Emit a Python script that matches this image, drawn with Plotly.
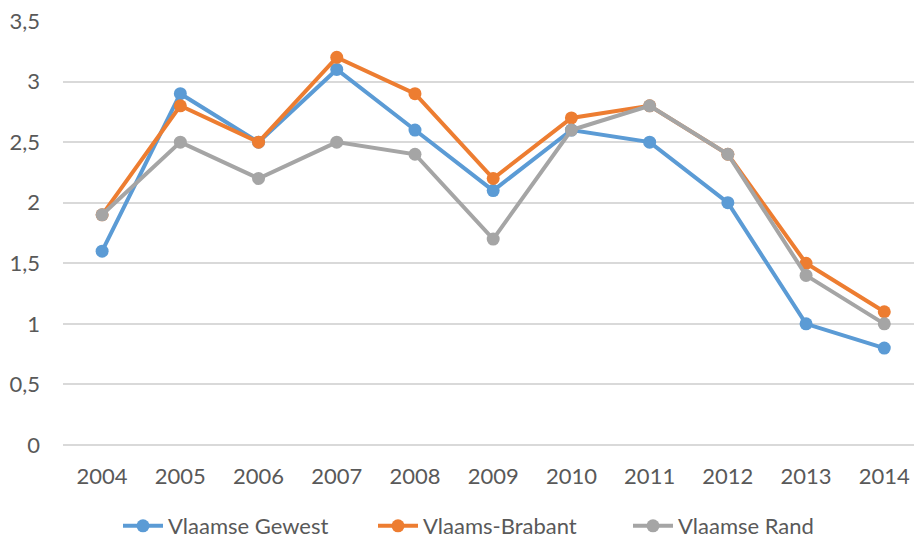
import plotly.graph_objects as go

years = ["2004", "2005", "2006", "2007", "2008", "2009", "2010", "2011", "2012", "2013", "2014"]
vlaamse_gewest = [1.6, 2.9, 2.5, 3.1, 2.6, 2.1, 2.6, 2.5, 2.0, 1.0, 0.8]
vlaams_brabant = [1.9, 2.8, 2.5, 3.2, 2.9, 2.2, 2.7, 2.8, 2.4, 1.5, 1.1]
vlaamse_rand = [1.9, 2.5, 2.2, 2.5, 2.4, 1.7, 2.6, 2.8, 2.4, 1.4, 1.0]
y_ticks = [0, 0.5, 1, 1.5, 2, 2.5, 3, 3.5]

series = [
    ("Vlaamse Gewest", vlaamse_gewest, "#5B9BD5"),
    ("Vlaams-Brabant", vlaams_brabant, "#ED7D31"),
    ("Vlaamse Rand", vlaamse_rand, "#A5A5A5"),
]

fig = go.Figure()
for name, vals, col in series:
    fig.add_trace(go.Scatter(
        x=years, y=vals, name=name, mode="lines+markers",
        line=dict(color=col, width=4),
        marker=dict(color=col, size=13),
    ))

font_col = "#595959"
fig.update_layout(
    width=914, height=540,
    margin=dict(l=63, r=0, t=21, b=95, autoexpand=False),
    paper_bgcolor="white", plot_bgcolor="white",
    separators=",.",
    font=dict(family="Lato, Open Sans, sans-serif", size=22, color=font_col),
    showlegend=True,
    legend=dict(orientation="h", xref="container", yref="container",
                x=(126 - 8) / 914, xanchor="left", y=14 / 540, yanchor="middle",
                font=dict(size=22, color=font_col), itemwidth=40,
                entrywidth=200, entrywidthmode="pixels",
                traceorder="normal"),
    xaxis=dict(type="category", range=[-0.5, 10.38], showgrid=False,
               showline=False, zeroline=False, ticks="", ticklabelstandoff=16,
               automargin=False),
    yaxis=dict(range=[0, 3.5], tickvals=y_ticks, showgrid=True,
               gridcolor="#D9D9D9", gridwidth=1.5, zeroline=True,
               zerolinecolor="#D9D9D9", zerolinewidth=1.5, showline=False,
               ticks="", ticklabelstandoff=22, automargin=False),
)

fig.write_html("out.html", post_script="document.body.style.margin='0';",
               config={"displayModeBar": False})
